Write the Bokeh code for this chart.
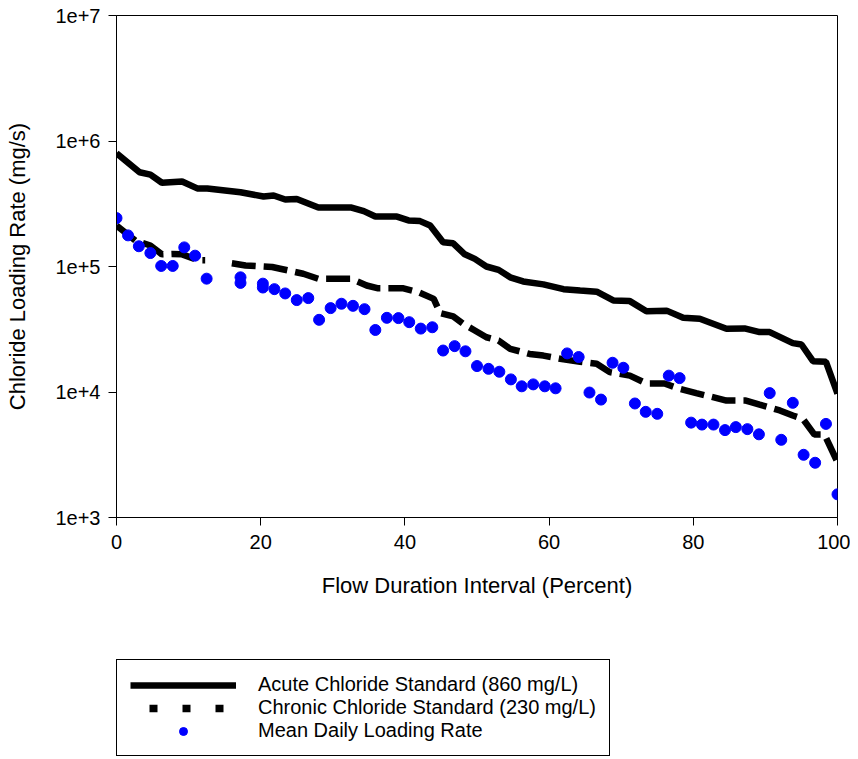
import numpy as np
from bokeh.plotting import figure
from bokeh.layouts import column
from bokeh.models import Legend, LegendItem, FixedTicker, CustomJSTickFormatter
from bokeh.embed import file_html
from bokeh.resources import INLINE

# ---- data ----
acute_x = [0, 3.2, 4.7, 6.3, 9.1, 11.2, 12.6, 17.2, 20.4, 21.8, 23.4, 25.0, 28.0, 29.6,
           32.6, 34.3, 35.9, 38.9, 40.5, 42.1, 43.5, 45.3, 46.7, 48.3, 49.7, 51.3, 53.0,
           54.6, 56.4, 59.2, 62.0, 64.3, 66.6, 68.9, 71.2, 73.5, 76.3, 78.6, 80.9, 84.6,
           87.1, 89.2, 90.6, 93.8, 95.0, 96.6, 98.4, 100]
acute_y = [8.0e5, 5.64e5, 5.4e5, 4.65e5, 4.75e5, 4.19e5, 4.19e5, 3.91e5, 3.61e5, 3.68e5,
           3.42e5, 3.45e5, 2.95e5, 2.95e5, 2.95e5, 2.76e5, 2.5e5, 2.5e5, 2.33e5, 2.3e5,
           2.12e5, 1.56e5, 1.53e5, 1.25e5, 1.15e5, 1.0e5, 9.4e4, 8.2e4, 7.6e4, 7.2e4,
           6.6e4, 6.44e4, 6.3e4, 5.36e4, 5.3e4, 4.4e4, 4.45e4, 3.9e4, 3.83e4, 3.19e4,
           3.21e4, 3.0e4, 3.0e4, 2.45e4, 2.39e4, 1.76e4, 1.74e4, 9.7e3]

chronic_x = [0, 2.6, 4.7, 6.3, 7.7, 9.1, 11.4, 12.3, np.nan, 16.0, 17.9, 21.6, 22.7, 25.9,
             28.0, 32.5, 34.7, 36.3, 39.8, 41.9, 44.0, 44.9, 46.7, 48.1, 49.7, 51.3, 53.0,
             54.6, 57.3, 59.2, 62.0, 64.3, 66.6, 68.4, 71.2, 73.5, 76.0, 78.1, 80.4, 84.6,
             87.3, 89.2, 92.0, 93.8, 95.2, 96.8, 98.2, 100]
chronic_y = [2.12e5, 1.61e5, 1.47e5, 1.25e5, 1.26e5, 1.25e5, 1.12e5, 1.12e5, np.nan, 1.06e5,
             1.02e5, 9.9e4, 9.6e4, 8.75e4, 7.98e4, 8.0e4, 7.06e4, 6.7e4, 6.7e4, 6.24e4,
             5.52e4, 4.25e4, 4.0e4, 3.49e4, 3.09e4, 2.73e4, 2.57e4, 2.21e4, 2.01e4, 1.95e4,
             1.82e4, 1.74e4, 1.68e4, 1.44e4, 1.35e4, 1.17e4, 1.17e4, 1.06e4, 9.8e3, 8.55e3,
             8.55e3, 7.94e3, 7.13e3, 6.5e3, 6.1e3, 4.58e3, 4.58e3, 2.76e3]

load_x = [0, 1.6, 3.1, 4.7, 6.2, 7.8, 9.4, 10.9, 12.5, 17.2, 17.2, 20.3, 20.3, 21.9, 23.4,
          25.0, 26.6, 28.1, 29.7, 31.2, 32.8, 34.4, 35.9, 37.5, 39.1, 40.6, 42.2, 43.8,
          45.3, 46.9, 48.4, 50.0, 51.6, 53.1, 54.7, 56.2, 57.8, 59.4, 60.9, 62.5, 64.1,
          65.6, 67.2, 68.8, 70.3, 71.9, 73.4, 75.0, 76.6, 78.1, 79.7, 81.2, 82.8, 84.4,
          85.9, 87.5, 89.1, 90.6, 92.2, 93.8, 95.3, 96.9, 98.4, 100]
load_y = [2.43e5, 1.77e5, 1.45e5, 1.28e5, 1.01e5, 1.01e5, 1.42e5, 1.22e5, 8.0e4, 8.2e4,
          7.4e4, 7.3e4, 6.8e4, 6.6e4, 6.1e4, 5.4e4, 5.6e4, 3.76e4, 4.66e4, 5.05e4, 4.86e4,
          4.57e4, 3.12e4, 3.9e4, 3.88e4, 3.6e4, 3.2e4, 3.28e4, 2.14e4, 2.32e4, 2.11e4,
          1.61e4, 1.53e4, 1.45e4, 1.26e4, 1.11e4, 1.15e4, 1.11e4, 1.07e4, 2.03e4, 1.9e4,
          9.9e3, 8.7e3, 1.71e4, 1.56e4, 8.1e3, 6.95e3, 6.7e3, 1.35e4, 1.29e4, 5.7e3, 5.5e3,
          5.5e3, 4.97e3, 5.25e3, 5.06e3, 4.6e3, 9.8e3, 4.16e3, 8.2e3, 3.16e3, 2.73e3,
          5.57e3, 1.53e3]

x_ticks = [0, 20, 40, 60, 80, 100]
y_ticks = [1e3, 1e4, 1e5, 1e6, 1e7]
labels = ["Acute Chloride Standard (860 mg/L)",
          "Chronic Chloride Standard (230 mg/L)",
          "Mean Daily Loading Rate"]

FONT = "Liberation Sans"

p = figure(width=850, height=640, x_range=(0, 100), y_range=(1e3, 1e7),
           y_axis_type="log", output_backend="svg", toolbar_location=None,
           min_border_left=116, min_border_right=13, min_border_top=15,
           min_border_bottom=123,
           x_axis_label="Flow Duration Interval (Percent)",
           y_axis_label="Chloride Loading Rate (mg/s)")
p.xgrid.visible = False
p.ygrid.visible = False
p.outline_line_color = "black"
p.outline_line_alpha = 1.0
p.outline_line_width = 1
p.background_fill_color = "white"
p.border_fill_color = "white"

p.xaxis.ticker = FixedTicker(ticks=x_ticks)
p.yaxis.ticker = FixedTicker(ticks=y_ticks)
p.yaxis.formatter = CustomJSTickFormatter(code="return '1e+' + Math.round(Math.log10(tick));")

for ax in (p.xaxis[0], p.yaxis[0]):
    ax.axis_line_color = "black"
    ax.major_tick_line_color = "black"
    ax.major_tick_out = 8
    ax.major_tick_in = 0
    ax.minor_tick_line_color = None
    ax.major_label_text_font = FONT
    ax.major_label_text_font_size = "20px"
    ax.major_label_text_color = "black"
    ax.axis_label_text_font = FONT
    ax.axis_label_text_font_size = "22px"
    ax.axis_label_text_font_style = "normal"
    ax.axis_label_text_color = "black"
p.xaxis.major_label_standoff = 9
p.xaxis.axis_label_standoff = 21
p.yaxis.major_label_standoff = 8
p.yaxis.axis_label_standoff = 22

# data renderers
p.line(acute_x, acute_y, line_color="black", line_width=6.5)
p.line(np.array(chronic_x), np.array(chronic_y), line_color="black", line_width=6.5,
       line_dash="24 8")
p.scatter(load_x, load_y, size=11, fill_color="#0000FF", line_color="#0000FF")

# ---- legend strip below the chart ----
# its ranges (0..1) keep the proxy renderers below (which reuse the first data
# values, all far above 1) out of view; the legend only borrows their styling
lg = figure(width=850, height=119, x_range=(0, 1), y_range=(0, 1),
            output_backend="svg", toolbar_location=None,
            x_axis_location=None, y_axis_location=None,
            min_border_left=116, min_border_right=13, min_border_top=19,
            min_border_bottom=0)
lg.xgrid.visible = False
lg.ygrid.visible = False
lg.outline_line_color = None
lg.background_fill_color = "white"
lg.border_fill_color = "white"

la = lg.line(x=acute_x[:2], y=acute_y[:2], line_color="black", line_width=6.5)
lc = lg.line(x=chronic_x[:2], y=chronic_y[:2], line_color="black", line_width=7.5,
             line_dash="8 25", line_dash_offset=14)
lm = lg.scatter(x=load_x[:1], y=load_y[:1], size=11, fill_color="#0000FF",
                line_color="#0000FF")

legend = Legend(items=[LegendItem(label=labels[0], renderers=[la]),
                       LegendItem(label=labels[1], renderers=[lc]),
                       LegendItem(label=labels[2], renderers=[lm])],
                location="top_left", glyph_width=106, glyph_height=20,
                label_height=20, spacing=0, padding=13, label_standoff=22,
                label_text_font=FONT, label_text_font_size="20px",
                label_text_color="black", border_line_color="black",
                border_line_width=1, border_line_alpha=1.0,
                background_fill_color="white", background_fill_alpha=1.0, margin=0)
lg.add_layout(legend)

layout = column(p, lg, spacing=0)
open("out.html", "w").write(file_html(layout, INLINE))
